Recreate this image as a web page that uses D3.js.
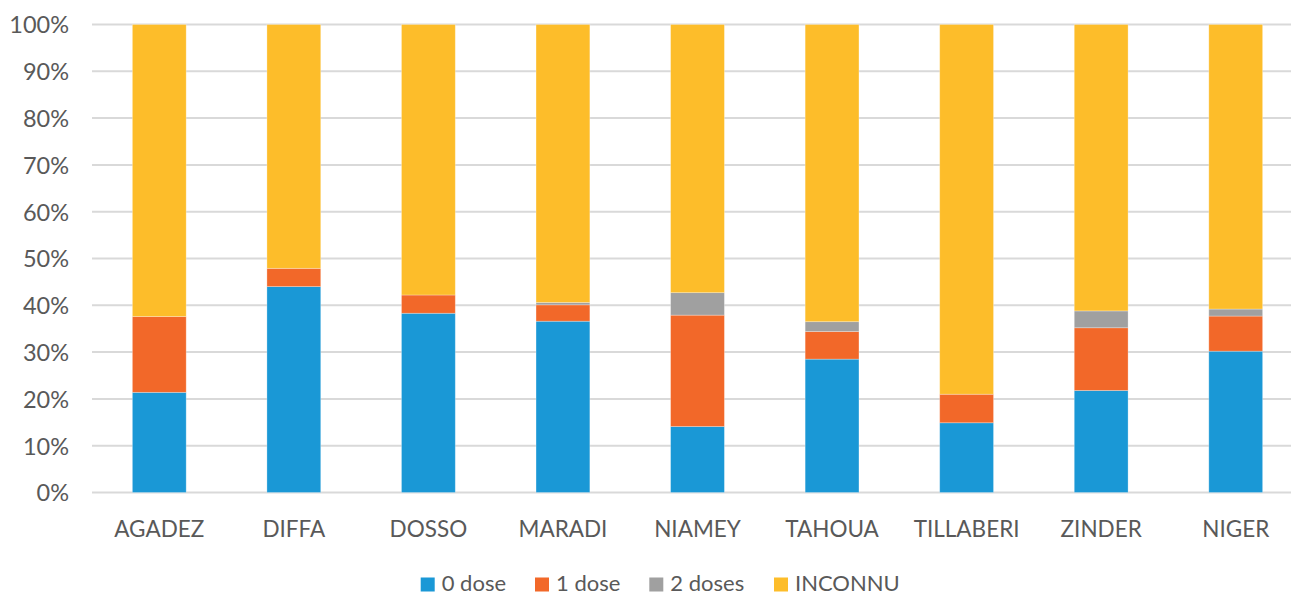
<!DOCTYPE html>
<html>
<head>
<meta charset="utf-8">
<script src="https://cdn.jsdelivr.net/npm/d3@7"></script>
<style>
  html, body { margin: 0; padding: 0; background: #fff; }
  svg text { font-family: Lato, "Open Sans", sans-serif; fill: #595959; }
</style>
</head>
<body>
<svg id="chart" width="1291" height="595"></svg>
<script>
// Vaccination status by region (share of children, %)
const regions = ["AGADEZ", "DIFFA", "DOSSO", "MARADI", "NIAMEY", "TAHOUA", "TILLABERI", "ZINDER", "NIGER"];
const dose0   = [21.4, 44.0, 38.3, 36.6, 14.1, 28.5, 14.9, 21.8, 30.2];
const dose1   = [16.2,  3.9,  3.9,  3.5, 23.8,  5.9,  6.1, 13.4,  7.5];
const doses2  = [ 0.0,  0.0,  0.0,  0.5,  4.8,  2.1,  0.0,  3.6,  1.5];
const inconnu = [62.4, 52.1, 57.8, 59.4, 57.3, 63.5, 79.0, 61.2, 60.8];

const seriesNames  = ["0 dose", "1 dose", "2 doses", "INCONNU"];
const seriesColors = ["#1a98d6", "#f26829", "#a0a0a0", "#fdbd2a"];
const yTicks = [0, 10, 20, 30, 40, 50, 60, 70, 80, 90, 100];

const rows = regions.map((r, i) => ({
  region: r,
  "0 dose": dose0[i],
  "1 dose": dose1[i],
  "2 doses": doses2[i],
  "INCONNU": inconnu[i]
}));

const svg = d3.select("#chart");
const margin = { left: 92, right: 1303, top: 24.5, bottom: 492.5 };

const x = d3.scaleBand()
  .domain(regions)
  .range([margin.left, margin.right])
  .paddingInner(0.6)
  .paddingOuter(0.3);

const y = d3.scaleLinear().domain([0, 100]).range([margin.bottom, margin.top]);

// horizontal gridlines
svg.append("g")
  .selectAll("line")
  .data(yTicks)
  .join("line")
  .attr("x1", margin.left)
  .attr("x2", margin.right)
  .attr("y1", d => y(d))
  .attr("y2", d => y(d))
  .attr("stroke", "#d9d9d9")
  .attr("stroke-width", 2);

// y axis labels
const yAxis = d3.axisLeft(y).tickValues(yTicks).tickFormat(d => d + "%").tickSize(0).tickPadding(0);
const yg = svg.append("g").attr("transform", "translate(69,0)").call(yAxis);
yg.select(".domain").remove();
yg.selectAll("text")
  .style("font-size", "23.5px")
  .attr("fill", "#595959")
  .attr("dy", "0.36em");

// stacked bars
const stack = d3.stack().keys(seriesNames);
const stacked = stack(rows);

svg.append("g")
  .selectAll("g")
  .data(stacked)
  .join("g")
  .attr("fill", (d, i) => seriesColors[i])
  .selectAll("rect")
  .data(d => d)
  .join("rect")
  .attr("x", d => x(d.data.region))
  .attr("width", x.bandwidth())
  .attr("y", d => y(d[1]))
  .attr("height", d => y(d[0]) - y(d[1]))
  .attr("stroke", "rgba(255,255,255,0.35)")
  .attr("stroke-width", 0.8);

// category axis labels
const xAxis = d3.axisBottom(x).tickSize(0).tickPadding(0);
const xg = svg.append("g").attr("transform", "translate(0,519)").call(xAxis);
xg.select(".domain").remove();
xg.selectAll("text")
  .style("font-size", "22.5px")
  .attr("fill", "#595959")
  .attr("dy", "0.78em");

// legend
const legendX = [420.7, 535, 649.3, 774];
const legend = svg.append("g")
  .selectAll("g")
  .data(seriesNames)
  .join("g")
  .attr("transform", (d, i) => `translate(${legendX[i]},577.5)`);
legend.append("rect")
  .attr("width", 14)
  .attr("height", 14)
  .attr("fill", (d, i) => seriesColors[i]);
legend.append("text")
  .attr("x", 21)
  .attr("y", 13)
  .style("font-size", "22px")
  .text(d => d);
</script>
</body>
</html>
